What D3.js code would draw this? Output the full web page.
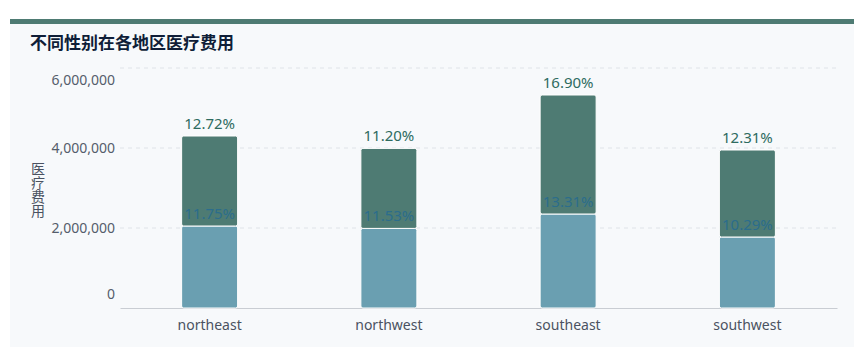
<!DOCTYPE html>
<html><head><meta charset="utf-8">
<script src="https://cdn.jsdelivr.net/npm/d3@7"></script>
<style>body{margin:0;background:#fff;font-family:"Noto Sans","Open Sans",sans-serif}</style>
</head><body>
<svg id="c" width="859" height="356"></svg>
<script>
const categories = ["northeast", "northwest", "southeast", "southwest"];
const bottomValues = [2050000, 1990000, 2350000, 1775000];
const topValues = [2250000, 2000000, 2975000, 2175000];
const bottomLabels = ["11.75%", "11.53%", "13.31%", "10.29%"];
const topLabels = ["12.72%", "11.20%", "16.90%", "12.31%"];
const yTicks = [0, 2000000, 4000000, 6000000];
const title = "不同性别在各地区医疗费用";
const yTitle = "医疗费用";

const svg = d3.select("#c");
const cjk = '"Noto Sans CJK SC","Noto Sans",sans-serif';
svg.append("rect").attr("x", 10).attr("y", 19).attr("width", 844).attr("height", 328).attr("fill", "#f7f9fb");
svg.append("rect").attr("x", 10).attr("y", 19).attr("width", 844).attr("height", 5).attr("fill", "#4e7b73");
svg.append("text").attr("x", 30).attr("y", 49).text(title)
  .attr("font-family", cjk).attr("font-size", 17).attr("font-weight", "bold").attr("fill", "#0f1e38");

const x = d3.scaleBand().domain(categories).range([120, 837]);
const y = d3.scaleLinear().domain([0, 6000000]).range([308, 68]);

// grid
svg.append("g").selectAll("line").data(yTicks.filter(d => d > 0)).join("line")
  .attr("x1", 120).attr("x2", 837).attr("y1", d => y(d)).attr("y2", d => y(d))
  .attr("stroke", "#dfe3e8").attr("stroke-dasharray", "4,4");

// y axis labels
const yAxis = svg.append("g").attr("transform", "translate(115,0)")
  .call(d3.axisLeft(y).tickValues(yTicks).tickSize(0).tickPadding(0).tickFormat(d3.format(",")));
yAxis.select(".domain").remove();
yAxis.selectAll("text").attr("font-size", 14).attr("fill", "#555d6b").attr("font-family", '"Noto Sans",sans-serif')
  .attr("dy", d => d === 0 ? "-0.65em" : d === 6000000 ? "1.2em" : "0.32em");

// x axis
const xAxis = svg.append("g").attr("transform", "translate(0,308)")
  .call(d3.axisBottom(x).tickSize(0).tickPadding(12));
xAxis.select(".domain").attr("stroke", "#c9cdd3").attr("stroke-width", 1.2);
xAxis.selectAll("text").attr("font-size", 14).attr("fill", "#4a5261").attr("font-family", '"Noto Sans",sans-serif');

// y title vertical (single text, vertical writing mode)
svg.append("text").attr("x", 38).attr("y", 162).text(yTitle)
  .attr("font-family", cjk).attr("font-size", 14).attr("fill", "#4a5261")
  .style("writing-mode", "vertical-rl").style("glyph-orientation-vertical", "0");

const bw = 56;
const g = svg.append("g");
categories.forEach((c, i) => {
  const cx = x(c) + x.bandwidth() / 2;
  const b = bottomValues[i], t = topValues[i];
  g.append("rect").attr("x", cx - bw / 2).attr("y", y(b)).attr("width", bw).attr("height", y(0) - y(b))
    .attr("fill", "#6a9fb1").attr("stroke", "#fff").attr("stroke-width", 1).attr("rx", 2);
  g.append("rect").attr("x", cx - bw / 2).attr("y", y(b + t)).attr("width", bw).attr("height", y(b) - y(b + t))
    .attr("fill", "#4e7b73").attr("stroke", "#fff").attr("stroke-width", 1).attr("rx", 2);
  g.append("text").attr("x", cx).attr("y", y(b + t) - 7).attr("text-anchor", "middle")
    .attr("font-size", 15).attr("fill", "#2e6b5f").text(topLabels[i]);
  g.append("text").attr("x", cx).attr("y", y(b) - 7).attr("text-anchor", "middle")
    .attr("font-size", 15).attr("fill", "#2b6d8c").text(bottomLabels[i]);
});
</script>
</body></html>
